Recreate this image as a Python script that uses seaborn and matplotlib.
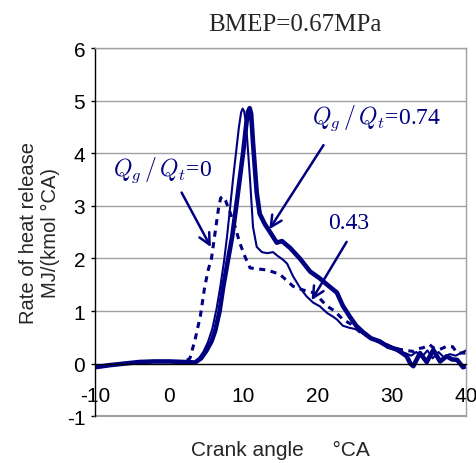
"""
Rate of heat release vs crank angle, BMEP=0.67MPa
"""

import matplotlib

matplotlib.use("Agg")
import matplotlib.pyplot as plt
import pandas as pd
import seaborn as sns

# Qg/Qt = 0 (dashed)
angle_0 = [-10, -8, -6, -4, -2, 0, 2, 2.8, 3.5, 4.2, 4.8, 5.3, 5.7, 6.2, 6.7, 6.95, 7.2,
           7.6, 8.2, 8.9, 9.5, 10.2, 10.9, 12, 13.2, 14.9, 16.7, 17.6, 18.5, 19.4, 20,
           21.3, 22.3, 23.4, 24.5, 25.7, 27, 28.4, 29.5, 30.2, 31.1, 32, 32.9, 33.4,
           34.2, 35.1, 35.6, 36.5, 37.4, 38.2, 38.8, 39.2, 40]
rhr_0 = [-0.07, -0.03, 0.0, 0.03, 0.04, 0.04, 0.03, 0.1, 0.46, 0.9, 1.47, 1.8, 2.0, 2.5,
         3.0, 3.15, 3.18, 3.1, 2.88, 2.6, 2.3, 2.04, 1.82, 1.8, 1.78, 1.7, 1.47, 1.42,
         1.38, 1.35, 1.28, 1.09, 1.0, 0.84, 0.75, 0.6, 0.5, 0.42, 0.35, 0.3, 0.27, 0.25,
         0.23, 0.28, 0.3, 0.36, 0.3, 0.27, 0.33, 0.32, 0.2, 0.2, 0.2]

# Qg/Qt = 0.43 (thin)
angle_43 = [-10, -8, -6, -4, -2, 0, 2, 3.3, 4.0, 4.6, 5.2, 5.8, 6.4, 6.9, 7.4, 7.8, 8.2,
            8.6, 9.0, 9.4, 9.7, 9.9, 10.1, 10.3, 10.5, 10.9, 11.3, 11.8, 12.5, 13.2, 14,
            14.6, 15.3, 15.9, 16.7, 17.6, 18.5, 19.4, 20.3, 21.3, 22, 22.6, 23.4, 24.3,
            25.3, 26.3, 27.5, 28.5, 29.4, 30.2, 31, 31.8, 32.6, 33.3, 34, 34.8, 35.5,
            36.3, 37, 37.8, 38.6, 39.3, 40]
rhr_43 = [-0.07, -0.03, 0.0, 0.03, 0.04, 0.04, 0.03, 0.02, 0.1, 0.22, 0.4, 0.65, 1.05,
          1.47, 1.95, 2.42, 2.95, 3.5, 4.0, 4.5, 4.78, 4.85, 4.8, 4.62, 4.3, 3.5, 2.6,
          2.22, 2.12, 2.1, 2.12, 2.05, 1.98, 1.9, 1.66, 1.45, 1.28, 1.16, 1.09, 0.96,
          0.9, 0.84, 0.72, 0.68, 0.65, 0.55, 0.46, 0.38, 0.32, 0.27, 0.22, 0.2, 0.15,
          0.22, 0.12, 0.25, 0.1, 0.22, 0.12, 0.18, 0.15, 0.2, 0.25]

# Qg/Qt = 0.74 (thick)
angle_74 = [-10, -8, -6, -4, -2, 0, 2, 3.5, 4.3, 5.0, 5.7, 6.2, 6.8, 7.3, 7.9, 8.5, 9.0,
            9.5, 10.0, 10.35, 10.6, 10.85, 11.05, 11.3, 11.8, 12.2, 12.9, 13.6, 14.5,
            15.2, 16.3, 17.6, 19, 20.3, 21.3, 22.6, 23.4, 24.4, 25.2, 26.1, 27.2, 28.4,
            29.5, 30.7, 32, 32.5, 32.9, 33.8, 34.7, 35.6, 36.5, 37.4, 38.1, 38.8, 39.6,
            40]
rhr_74 = [-0.07, -0.03, 0.0, 0.03, 0.04, 0.04, 0.03, 0.02, 0.1, 0.24, 0.42, 0.62, 1.0,
          1.47, 1.95, 2.42, 2.95, 3.5, 4.05, 4.5, 4.78, 4.86, 4.75, 4.2, 3.25, 2.85,
          2.65, 2.5, 2.3, 2.33, 2.2, 2.0, 1.75, 1.62, 1.5, 1.35, 1.1, 0.88, 0.72, 0.6,
          0.48, 0.42, 0.32, 0.27, 0.14, 0.0, -0.05, 0.2, 0.03, 0.26, 0.04, 0.14, 0.08,
          0.07, -0.07, -0.05]

x_ticks = [-10, 0, 10, 20, 30, 40]
y_ticks = [-1, 0, 1, 2, 3, 4, 5, 6]

NAVY = "#000080"
GRID = "#a0a0a0"

sns.set_theme(style="white")
plt.rcParams["font.family"] = ["Liberation Sans", "DejaVu Sans"]
plt.rcParams["mathtext.fontset"] = "cm"
plt.rcParams["axes.unicode_minus"] = False

fig = plt.figure(figsize=(4.77, 4.64), dpi=100)
ax = fig.add_axes([0.199, 0.101, 0.778, 0.793])

# horizontal grid lines
for yv in y_ticks[2:]:
    ax.axhline(yv, color=GRID, lw=1, zorder=0)

df0 = pd.DataFrame({"angle": angle_0, "rhr": rhr_0})
df43 = pd.DataFrame({"angle": angle_43, "rhr": rhr_43})
df74 = pd.DataFrame({"angle": angle_74, "rhr": rhr_74})

sns.lineplot(data=df0, x="angle", y="rhr", ax=ax, color=NAVY, lw=2.2,
             linestyle=(0, (2, 1.8)), sort=False, estimator=None)
sns.lineplot(data=df43, x="angle", y="rhr", ax=ax, color=NAVY, lw=1.5,
             sort=False, estimator=None)
sns.lineplot(data=df74, x="angle", y="rhr", ax=ax, color=NAVY, lw=3.3,
             sort=False, estimator=None)

ax.set_xlim(x_ticks[0], x_ticks[-1])
ax.set_ylim(y_ticks[0], y_ticks[-1])
ax.set_xticks(x_ticks)
ax.set_yticks(y_ticks)
ax.tick_params(axis="x", direction="in", length=4, width=1, pad=16,
               labelsize=15, colors="black")
ax.tick_params(axis="y", direction="out", length=3, width=1, pad=4,
               labelsize=15, colors="black", left=True)

# x axis sits at y=0, plot frame in gray
ax.spines["bottom"].set_position(("data", 0))
ax.spines["bottom"].set_color("black")
ax.spines["left"].set_color("black")
ax.spines["top"].set_color(GRID)
ax.spines["right"].set_color(GRID)
for s in ax.spines.values():
    s.set_linewidth(1)
ax.axhline(y_ticks[0], color=GRID, lw=1.5, clip_on=False)

ax.set_xlabel("Crank angle     \u00b0CA", fontsize=15, labelpad=0)
ax.xaxis.set_label_coords(0.5, -0.065)
ax.set_ylabel("Rate of heat release\nMJ/(kmol \u00b0CA)", fontsize=14.5, labelpad=5)
ax.set_title("BMEP=0.67MPa", fontsize=18, family="Liberation Serif", pad=13, x=0.54)

arrow = dict(arrowstyle="->", color=NAVY, lw=1.8, mutation_scale=20)
ax.annotate(r"$Q_g\,/\,Q_t$=0", xy=(5.8, 2.17), xytext=(-7.5, 3.7),
            fontsize=17, color=NAVY, va="center", ha="left", family="Liberation Serif")
ax.annotate("", xy=(5.8, 2.17), xytext=(1.5, 3.3), arrowprops=arrow)
ax.annotate(r"$Q_g\,/\,Q_t$=0.74", xy=(13.3, 2.51), xytext=(19.2, 4.69),
            fontsize=17, color=NAVY, va="center", ha="left", family="Liberation Serif")
ax.annotate("", xy=(13.3, 2.51), xytext=(21.0, 4.2), arrowprops=arrow)
ax.annotate("0.43", xy=(19.0, 1.16), xytext=(21.4, 2.69),
            fontsize=17, color=NAVY, va="center", ha="left", family="Liberation Serif")
ax.annotate("", xy=(19.0, 1.16), xytext=(24.1, 2.36), arrowprops=arrow)

fig.savefig("out.png", dpi=100)
